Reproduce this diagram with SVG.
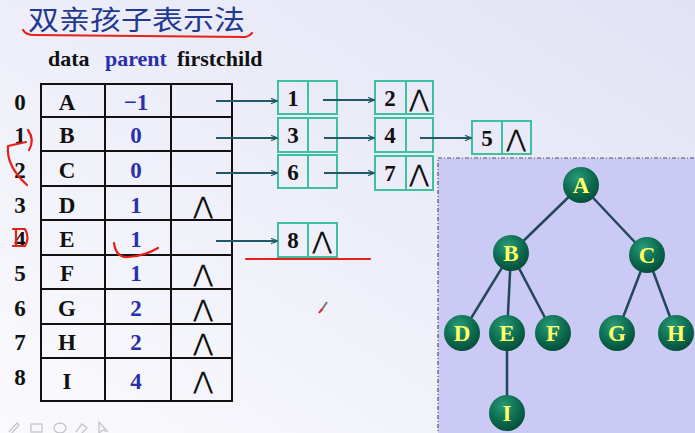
<svg xmlns="http://www.w3.org/2000/svg" width="695" height="433" viewBox="0 0 695 433">
<defs>
<linearGradient id="bg" x1="1" y1="0" x2="0" y2="1">
<stop offset="0" stop-color="#e2e2f5"/>
<stop offset="1" stop-color="#fafafd"/>
</linearGradient>
<radialGradient id="ball" cx="0.4" cy="0.3" r="0.75">
<stop offset="0" stop-color="#2a9a78"/>
<stop offset="0.6" stop-color="#0b6a4e"/>
<stop offset="1" stop-color="#064a36"/>
</radialGradient>
<marker id="arr" viewBox="0 0 10 10" refX="9" refY="5" markerWidth="7" markerHeight="7" orient="auto" markerUnits="userSpaceOnUse">
<path d="M0,1 L10,5 L0,9" fill="none" stroke="#1f5a66" stroke-width="1.6"/>
</marker>
<style>
.hdr{font-family:"Liberation Serif",serif;font-weight:bold;font-size:22px}
.t{font-family:"Liberation Serif",serif;font-weight:bold;font-size:23px;text-anchor:middle}
.blk{fill:#111}
.blu{fill:#2a2fae}
.grid{stroke:#111;stroke-width:2;fill:none}
.box{fill:none;stroke:#3dbfa0;stroke-width:2}
.lt{font-family:"Liberation Serif",serif;font-weight:bold;font-size:23px;fill:#111;text-anchor:middle}
.w{font-family:"DejaVu Sans",sans-serif;font-weight:normal;font-size:24px;fill:#111;text-anchor:middle}
.arrow{stroke:#1f5a66;stroke-width:2;fill:none;marker-end:url(#arr)}
.edge{stroke:#23485a;stroke-width:2.5}
.node{fill:url(#ball)}
.nl{font-family:"Liberation Serif",serif;font-weight:bold;font-size:23px;fill:#ffff66;text-anchor:middle}
.red{stroke:#e8201a;stroke-width:2.2;fill:none;stroke-linecap:round;stroke-linejoin:round}
.tool{stroke:#c4c4cc;stroke-width:1.3;fill:none}
</style>
</defs>
<rect width="695" height="433" fill="url(#bg)"/>

<g id="title">
<text x="28" y="30" font-family="'Liberation Serif','Noto Sans CJK SC',serif" font-size="27" fill="#1f3a8f" textLength="217" lengthAdjust="spacingAndGlyphs">双亲孩子表示法</text>
</g>

<g id="header">
<text class="hdr blk" x="48" y="66">data</text>
<text class="hdr blu" x="105" y="66">parent</text>
<text class="hdr blk" x="177" y="66">firstchild</text>
</g>

<g id="table">
<rect class="grid" x="41" y="84" width="191" height="317"/>
<line class="grid" x1="105" y1="84" x2="105" y2="401"/>
<line class="grid" x1="171" y1="84" x2="171" y2="401"/>
<line class="grid" x1="41" y1="117" x2="232" y2="117"/>
<line class="grid" x1="41" y1="151" x2="232" y2="151"/>
<line class="grid" x1="41" y1="186" x2="232" y2="186"/>
<line class="grid" x1="41" y1="220" x2="232" y2="220"/>
<line class="grid" x1="41" y1="255" x2="232" y2="255"/>
<line class="grid" x1="41" y1="289" x2="232" y2="289"/>
<line class="grid" x1="41" y1="324" x2="232" y2="324"/>
<line class="grid" x1="41" y1="358" x2="232" y2="358"/>
<g class="t blk">
<text x="20" y="110">0</text><text x="67" y="110">A</text>
<text x="20" y="143">1</text><text x="67" y="143">B</text>
<text x="20" y="178">2</text><text x="67" y="178">C</text>
<text x="20" y="213">3</text><text x="67" y="213">D</text>
<text x="20" y="247">4</text><text x="67" y="247">E</text>
<text x="20" y="281">5</text><text x="67" y="281">F</text>
<text x="20" y="316">6</text><text x="67" y="316">G</text>
<text x="20" y="350">7</text><text x="67" y="350">H</text>
<text x="20" y="385">8</text><text x="67" y="389">I</text>
</g>
<g class="w">
<text x="203" y="214">⋀</text>
<text x="203" y="282">⋀</text>
<text x="203" y="317">⋀</text>
<text x="203" y="351">⋀</text>
<text x="203" y="389">⋀</text>
</g>
<g class="t blu">
<text x="136" y="110">−1</text>
<text x="136" y="143">0</text>
<text x="136" y="178">0</text>
<text x="136" y="213">1</text>
<text x="136" y="247">1</text>
<text x="136" y="281">1</text>
<text x="136" y="316">2</text>
<text x="136" y="350">2</text>
<text x="136" y="389">4</text>
</g>
</g>

<g id="n1"><rect class="box" x="278" y="81" width="59" height="33"/><line class="box" x1="308" y1="81" x2="308" y2="114"/><text class="lt" x="293" y="106">1</text></g>
<g id="n2"><rect class="box" x="375" y="81" width="58" height="33"/><line class="box" x1="406" y1="81" x2="406" y2="114"/><text class="lt" x="390" y="106">2</text><text class="w" x="419" y="107">⋀</text></g>
<g id="n3"><rect class="box" x="278" y="118" width="59" height="34"/><line class="box" x1="308" y1="118" x2="308" y2="152"/><text class="lt" x="293" y="143">3</text></g>
<g id="n4"><rect class="box" x="375" y="118" width="58" height="34"/><line class="box" x1="406" y1="118" x2="406" y2="152"/><text class="lt" x="390" y="143">4</text></g>
<g id="n5"><rect class="box" x="472" y="121" width="59" height="33"/><line class="box" x1="502" y1="121" x2="502" y2="154"/><text class="lt" x="487" y="146">5</text><text class="w" x="516" y="147">⋀</text></g>
<g id="n6"><rect class="box" x="278" y="155" width="59" height="33"/><line class="box" x1="308" y1="155" x2="308" y2="188"/><text class="lt" x="293" y="180">6</text></g>
<g id="n7"><rect class="box" x="375" y="156" width="58" height="34"/><line class="box" x1="406" y1="156" x2="406" y2="190"/><text class="lt" x="390" y="181">7</text><text class="w" x="419" y="182">⋀</text></g>
<g id="n8"><rect class="box" x="278" y="223" width="59" height="34"/><line class="box" x1="308" y1="223" x2="308" y2="257"/><text class="lt" x="293" y="248">8</text><text class="w" x="322" y="249">⋀</text></g>

<g id="connectors">
<line class="arrow" x1="216" y1="101" x2="277" y2="101"/>
<line class="arrow" x1="323" y1="100" x2="374" y2="100"/>
<line class="arrow" x1="216" y1="138" x2="277" y2="138"/>
<line class="arrow" x1="324" y1="138" x2="374" y2="138"/>
<line class="arrow" x1="420" y1="138" x2="471" y2="138"/>
<line class="arrow" x1="216" y1="173" x2="277" y2="173"/>
<line class="arrow" x1="324" y1="173" x2="374" y2="173"/>
<line class="arrow" x1="216" y1="241" x2="277" y2="241"/>
</g>

<rect x="438" y="158" width="260" height="280" fill="#cacaf4" stroke="#555" stroke-width="1.2" stroke-dasharray="4,2,1,2"/>

<g id="tree-edges">
<line class="edge" x1="581" y1="185" x2="511" y2="253"/>
<line class="edge" x1="581" y1="185" x2="647" y2="255"/>
<line class="edge" x1="511" y1="253" x2="462" y2="333"/>
<line class="edge" x1="511" y1="253" x2="507" y2="333"/>
<line class="edge" x1="511" y1="253" x2="553" y2="333"/>
<line class="edge" x1="647" y1="255" x2="617" y2="333"/>
<line class="edge" x1="647" y1="255" x2="676" y2="333"/>
<line class="edge" x1="507" y1="333" x2="507" y2="413"/>
</g>
<g id="tA"><circle class="node" cx="581" cy="185" r="18"/><text class="nl" x="581" y="193">A</text></g>
<g id="tB"><circle class="node" cx="511" cy="253" r="18"/><text class="nl" x="511" y="261">B</text></g>
<g id="tC"><circle class="node" cx="647" cy="255" r="18"/><text class="nl" x="647" y="263">C</text></g>
<g id="tD"><circle class="node" cx="462" cy="333" r="18"/><text class="nl" x="462" y="341">D</text></g>
<g id="tE"><circle class="node" cx="507" cy="333" r="18"/><text class="nl" x="507" y="341">E</text></g>
<g id="tF"><circle class="node" cx="553" cy="333" r="18"/><text class="nl" x="553" y="341">F</text></g>
<g id="tG"><circle class="node" cx="617" cy="333" r="18"/><text class="nl" x="617" y="341">G</text></g>
<g id="tH"><circle class="node" cx="676" cy="333" r="18"/><text class="nl" x="676" y="341">H</text></g>
<g id="tI"><circle class="node" cx="507" cy="413" r="18"/><text class="nl" x="507" y="421">I</text></g>

<g id="annotations">
<path class="red" d="M23,30 Q26,35 34,35 L245,37 Q250,36 252,33"/>
<path class="red" d="M28,130 Q35,140 29,150"/>
<path class="red" d="M26,142 L8,146 Q6,166 27,185"/>
<path class="red" d="M13,229 L25,229 Q30,238 25,246 L13,246 M16,229 L16,246"/>
<path class="red" d="M114,243 Q116,258 128,257 Q145,256 158,248"/>
<path class="red" d="M246,259 L370,259"/>
<path d="M327,302 L321,311" stroke="#777" stroke-width="2"/>
<path d="M322,309 L319,313" stroke="#e8201a" stroke-width="2"/>
</g>

<g id="toolbar">
<path class="tool" d="M9,432 L17,423 L19,425 L11,434"/>
<rect class="tool" x="31" y="424" width="11" height="8"/>
<ellipse class="tool" cx="60" cy="428" rx="6" ry="5"/>
<path class="tool" d="M76,432 L82,424 L87,428 L81,434"/>
<path class="tool" d="M99,422 L99,433 L103,430 L107,431 Z"/>
</g>
</svg>
